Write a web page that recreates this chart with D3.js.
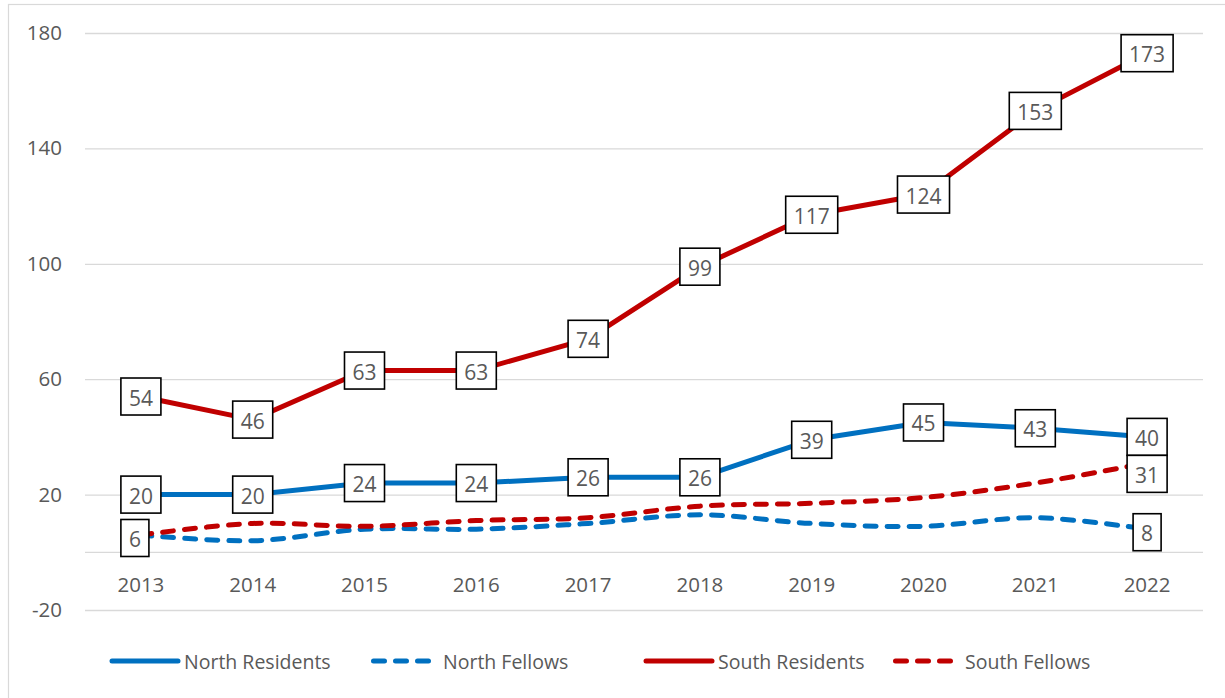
<!DOCTYPE html>
<html>
<head>
<meta charset="utf-8">
<script src="https://cdn.jsdelivr.net/npm/d3@7"></script>
<style>
  html, body { margin: 0; padding: 0; background: #fff; }
  svg { display: block; font-family: "Open Sans", sans-serif; }
</style>
</head>
<body>
<svg id="chart" width="1225" height="698"></svg>
<script>
// chart data
const years = ["2013", "2014", "2015", "2016", "2017", "2018", "2019", "2020", "2021", "2022"]
const northResidents = [20, 20, 24, 24, 26, 26, 39, 45, 43, 40]
const northFellows = [6, 4, 8, 8, 10, 13, 10, 9, 12, 8]
const southResidents = [54, 46, 63, 63, 74, 99, 117, 124, 153, 173]
const southFellows = [6, 10, 9, 11, 12, 16, 17, 19, 24, 31]
const yTicks = [-20, 20, 60, 100, 140, 180]

// which points carry a value box
const series = [
  { name: "North Residents", values: northResidents, color: "#0070C0", dashed: false, labels: years.map((d, i) => i) },
  { name: "North Fellows", values: northFellows, color: "#0070C0", dashed: true, labels: [0, 9] },
  { name: "South Residents", values: southResidents, color: "#C00000", dashed: false, labels: years.map((d, i) => i) },
  { name: "South Fellows", values: southFellows, color: "#C00000", dashed: true, labels: [9] }
]

// small nudges Excel applied to a few crowded labels (px)
const nudge = { "North Fellows-0": [-6, 3], "North Fellows-9": [0, 3], "South Fellows-9": [0, 11] }

const svg = d3.select("#chart")
const textColor = "#595959"
const gridColor = "#d9d9d9"

// outer chart border (only top/left are inside the picture)
svg.append("rect")
  .attr("x", 8.5).attr("y", 4.5)
  .attr("width", 1240).attr("height", 720)
  .attr("fill", "none")
  .attr("stroke", gridColor)
  .attr("stroke-width", 1.2)

const left = 85, right = 1203
const x = d3.scalePoint().domain(years).range([left, right]).padding(0.5)
const y = d3.scaleLinear().domain([-20, 180]).range([610, 33])

// gridlines + y labels
const yAxis = svg.append("g")
  .attr("transform", `translate(${left},0)`)
  .call(d3.axisLeft(y).tickValues(yTicks).tickFormat(d => String(d))
    .tickSize(-(right - left)).tickPadding(23))
yAxis.select(".domain").remove()
yAxis.selectAll(".tick line").attr("stroke", gridColor).attr("stroke-width", 1.3)
yAxis.selectAll(".tick text")
  .attr("fill", textColor)
  .attr("font-size", "20.5px")
  .attr("font-family", "Open Sans, sans-serif")

// category axis sits at 0
svg.append("line")
  .attr("x1", left).attr("x2", right)
  .attr("y1", y(0)).attr("y2", y(0))
  .attr("stroke", gridColor).attr("stroke-width", 1.3)

svg.append("g").selectAll("text")
  .data(years)
  .join("text")
  .attr("x", d => x(d))
  .attr("y", 584)
  .attr("text-anchor", "middle")
  .attr("dominant-baseline", "central")
  .attr("fill", textColor)
  .attr("font-size", "20.5px")
  .text(d => d)

// lines
const straight = d3.line().x((d, i) => x(years[i])).y(d => y(d))
const smooth = d3.line().x((d, i) => x(years[i])).y(d => y(d)).curve(d3.curveCatmullRom.alpha(0.5))

series.forEach(s => {
  svg.append("path")
    .datum(s.values)
    .attr("d", s.dashed ? smooth : straight)
    .attr("fill", "none")
    .attr("stroke", s.color)
    .attr("stroke-width", 5)
    .attr("stroke-linejoin", "round")
    .attr("stroke-linecap", s.dashed ? "round" : "butt")
    .attr("stroke-dasharray", s.dashed ? "11,11" : null)
})

// value boxes
const boxH = 37
series.forEach(s => {
  s.labels.forEach(i => {
    const v = s.values[i]
    const n = nudge[s.name + "-" + i] || [0, 0]
    const cx = x(years[i]) + n[0]
    const cy = y(v) + n[1]
    const g = svg.append("g")
    const r = g.append("rect")
    const t = g.append("text")
      .attr("x", cx).attr("y", cy + 1)
      .attr("text-anchor", "middle")
      .attr("dominant-baseline", "central")
      .attr("fill", textColor)
      .attr("font-size", "21px")
      .text(v)
    const w = t.node().getComputedTextLength() + 16
    r.attr("x", cx - w / 2).attr("y", cy - boxH / 2)
      .attr("width", w).attr("height", boxH)
      .attr("fill", "#fff")
      .attr("stroke", "#000")
      .attr("stroke-width", 1.6)
  })
})

// legend
const legendX = [112, 371, 646, 893]
const legendY = 661
series.forEach((s, i) => {
  const g = svg.append("g").attr("transform", `translate(${legendX[i]},${legendY})`)
  const len = s.dashed ? 60 : 66
  g.append("line")
    .attr("x1", s.dashed ? 2.5 : 0).attr("x2", s.dashed ? len - 2.5 : len)
    .attr("y1", 0).attr("y2", 0)
    .attr("stroke", s.color)
    .attr("stroke-width", 5)
    .attr("stroke-linecap", "round")
    .attr("stroke-dasharray", s.dashed ? "11,11" : null)
  g.append("text")
    .attr("x", s.dashed ? len + 12 : len + 6)
    .attr("y", 0)
    .attr("dominant-baseline", "central")
    .attr("fill", textColor)
    .attr("font-size", "19.5px")
    .text(s.name)
})
</script>
</body>
</html>
